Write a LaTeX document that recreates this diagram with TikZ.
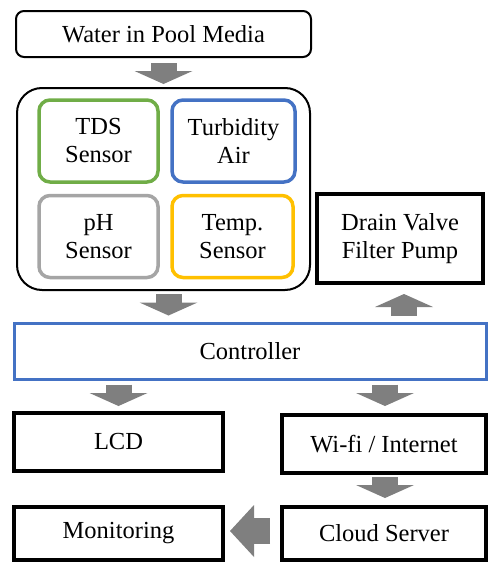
\documentclass[tikz,border=0pt]{standalone}
\usepackage{fontspec}
\setmainfont{Liberation Serif}
\newfontfamily\timesfont{Liberation Serif}
\usepackage{tikz}
\usepackage{xcolor}
\usetikzlibrary{arrows.meta,positioning,calc}
\definecolor{ink}{HTML}{000000}
\definecolor{arrowgray}{HTML}{7F7F7F}
\definecolor{tdsgreen}{HTML}{70AD47}
\definecolor{turbblue}{HTML}{4472C4}
\definecolor{phgray}{HTML}{A5A5A5}
\definecolor{tempyellow}{HTML}{FFC000}
\tikzset{
  every node/.style={font=\timesfont\fontsize{24.5}{28}\selectfont},
  box/.style={draw=ink,fill=white,line width=4pt,align=center,inner sep=0pt},
  roundbox/.style={draw=ink,fill=white,line width=2pt,rounded corners=8pt,
                   align=center,inner sep=0pt},
  sensorbox/.style={fill=white,line width=3.5pt,rounded corners=11pt,
                    align=center,inner sep=0pt,minimum height=82pt},
  ctrlbox/.style={draw=turbblue,fill=white,line width=3pt,align=center,
                  inner sep=0pt},
  blockarr/.style={draw=arrowgray,line width=26pt,
                   -{Triangle[length=13pt,width=58pt,line width=0pt]}}
}
\begin{document}
\begin{tikzpicture}[x=1pt,y=-1pt]
    \useasboundingbox (0,0) rectangle (488,562);
    \node[roundbox,minimum width=295pt,minimum height=46pt] (water) at (163.5,34)
      {Water in Pool Media};
    \node[draw=ink,line width=2pt,rounded corners=25pt,minimum width=293pt,
      minimum height=202pt,inner sep=0pt] (sensors) at (163.5,189) {};
    \node[sensorbox,draw=tdsgreen,minimum width=119pt] (tds) at (98.5,141)
      {TDS\\Sensor};
    \node[sensorbox,draw=turbblue,minimum width=123pt] (turb) at (233.5,141)
      {Turbidity\\Air};
    \node[sensorbox,draw=phgray,minimum width=119pt] (ph) at (98.5,236.5)
      {pH\\Sensor};
    \node[sensorbox,draw=tempyellow,minimum width=121pt] (temp) at (232.5,236.5)
      {Temp.\\Sensor};
    \node[box,minimum width=166pt,minimum height=89pt] (drain) at (400,238.5)
      {Drain Valve\\Filter Pump};
    \node[ctrlbox,minimum width=472pt,minimum height=56pt] (ctrl) at (250,351)
      {Controller};
    \node[box,minimum width=209pt,minimum height=58pt] (lcd) at (118.5,442)
      {LCD};
    \node[box,minimum width=204pt,minimum height=58pt] (wifi) at (384,444)
      {Wi-fi / Internet};
    \node[box,minimum width=209pt,minimum height=53pt] (monitor) at (118.5,533.5)
      {Monitoring};
    \node[box,minimum width=204pt,minimum height=53pt] (cloud) at (384,533.5)
      {Cloud Server};

    \draw[blockarr,shorten <=5pt,shorten >=3pt] (water) -- (sensors);
    \draw[blockarr,shorten <=3pt,shorten >=6pt]
      ([xshift=5pt]sensors.south) -- ([xshift=5pt]sensors.south |- ctrl.north);
    \draw[blockarr,shorten <=6pt,shorten >=9pt]
      ([xshift=4pt]drain.south |- ctrl.north) -- ([xshift=4pt]drain.south);
    \draw[blockarr,shorten <=4pt,shorten >=5pt]
      (lcd.north |- ctrl.south) -- (lcd.north);
    \draw[blockarr,shorten <=4pt,shorten >=7pt]
      ([xshift=1pt]wifi.north |- ctrl.south) -- ([xshift=1pt]wifi.north);
    \draw[blockarr,shorten <=2pt,shorten >=7pt]
      ([xshift=1pt]wifi.south) -- ([xshift=1pt]cloud.north);
    \draw[blockarr,-{Triangle[length=24pt,width=52pt,line width=0pt]},
      shorten <=10pt,shorten >=5pt] ([yshift=2.5pt]cloud.west) -- ([yshift=2.5pt]monitor.east);
  \end{tikzpicture}
\end{document}
